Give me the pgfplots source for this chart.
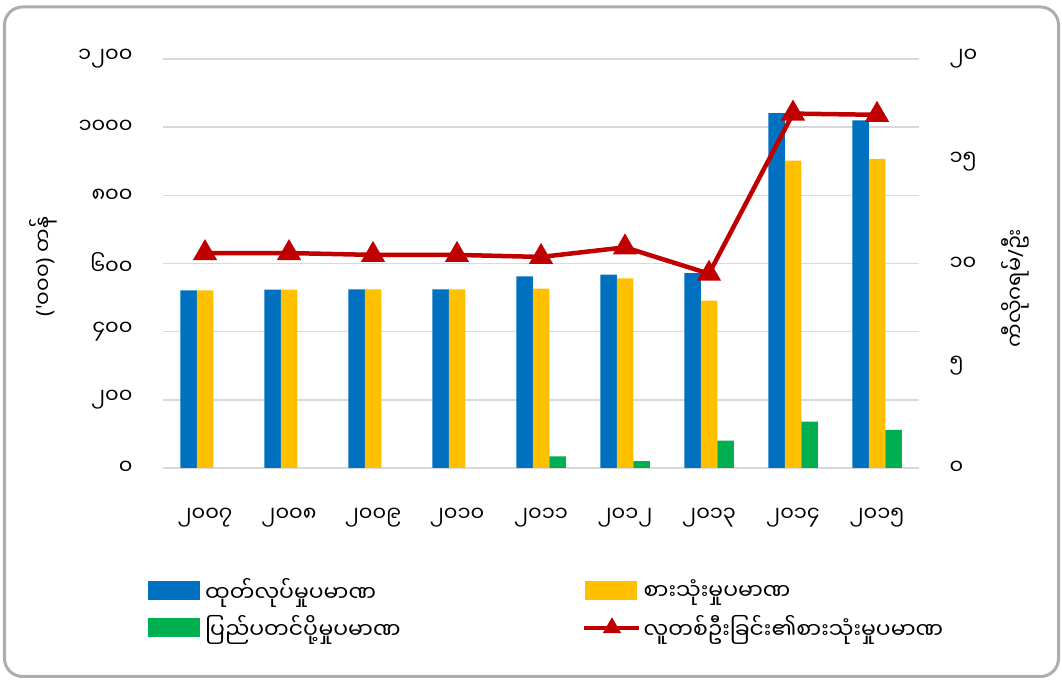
\documentclass[border=0pt]{standalone}
\usepackage{fontspec}
\usepackage{pgfplots}
\pgfplotsset{compat=1.18}
\newfontfamily\myan[Script=Myanmar]{Noto Sans Myanmar UI}
\newfontfamily\lat{Noto Sans}
\definecolor{cblue}{HTML}{0070C0}
\definecolor{cyellow}{HTML}{FFC000}
\definecolor{cgreen}{HTML}{00B050}
\definecolor{cred}{HTML}{C00000}
\definecolor{cgrid}{HTML}{D9D9D9}
\definecolor{cframe}{HTML}{ADADAD}
\newcommand{\tf}{\myan\fontsize{21}{25}\selectfont}
\newcommand{\lf}{\myan\fontsize{22}{26}\selectfont}
\pgfplotsset{
  barlegend/.style={legend image code/.code={\fill[##1] (0bp,-9.5bp) rectangle (52bp,9.5bp);}},
  redlegend/.style={legend image code/.code={\draw[##1, mark=none] (-1bp,0bp) -- (54bp,0bp); \draw[##1, line width=1bp] plot coordinates {(26.5bp,0bp)};}},
}
\begin{document}
\begin{tikzpicture}[x=1bp,y=1bp]
\useasboundingbox (0,0) rectangle (1062,680);
\draw[cframe, line width=3bp, rounded corners=18bp] (4.5,3.5) rectangle (1058.5,673);
\begin{axis}[
  at={(163bp,212bp)}, anchor=south west,
  width=756bp, height=409bp, scale only axis,
  xmin=-0.5, xmax=8.5, ymin=0, ymax=1200,
  ybar=0pt, bar width=16.5bp,
  xtick={0,...,8},
  xticklabels={၂၀၀၇,၂၀၀၈,၂၀၀၉,၂၀၁၀,၂၀၁၁,၂၀၁၂,၂၀၁၃,၂၀၁၄,၂၀၁၅},
  ytick={0,200,...,1200},
  yticklabels={၀,၂၀၀,၄၀၀,၆၀၀,၈၀၀,၁၀၀၀,၁၂၀၀},
  axis x line*=bottom, axis y line*=left,
  x axis line style={cgrid, line width=1.5bp},
  y axis line style={draw=none},
  major tick length=0pt,
  ymajorgrids, grid style={cgrid, line width=1.5bp},
  tick label style={font=\tf},
  yticklabel style={xshift=-27bp},
  xticklabel style={yshift=-37bp},
  ylabel={{\lat('}၀၀၀{\lat)} တန်},
  every axis y label/.style={at={(-0.1587,0.4927)}, rotate=90, anchor=center, font=\tf},
  legend columns=2,
  legend cell align=left,
  legend style={at={(-0.0198,-0.3448)}, anchor=west, draw=none, fill=none,
    inner sep=0pt, font=\lf, row sep=9bp},
]
\addplot[fill=cblue, draw=none, barlegend] coordinates {(0,521) (1,523) (2,524) (3,524) (4,562) (5,567) (6,572) (7,1041) (8,1020)};
\addlegendentry{\makebox[378bp][l]{\hspace*{3bp}ထုတ်လုပ်မှုပမာဏ}}
\addplot[fill=cyellow, draw=none, barlegend] coordinates {(0,521) (1,523) (2,524) (3,524) (4,526) (5,556) (6,491) (7,902) (8,907)};
\addlegendentry{စားသုံးမှုပမာဏ}
\addplot[fill=cgreen, draw=none, barlegend] coordinates {(4,34) (5,20.5) (6,80) (7,136) (8,112)};
\addlegendentry{\makebox[378bp][l]{\hspace*{3bp}ပြည်ပတင်ပို့မှုပမာဏ}}
\addlegendimage{cred, line width=4.5bp, mark=triangle*, mark size=9.5bp, redlegend}
\addlegendentry{လူတစ်ဦးခြင်း၏စားသုံးမှုပမာဏ}
\end{axis}
\begin{axis}[
  at={(163bp,212bp)}, anchor=south west,
  width=756bp, height=409bp, scale only axis,
  xmin=-0.5, xmax=8.5, ymin=0, ymax=20,
  hide x axis,
  axis y line*=right,
  y axis line style={draw=none},
  major tick length=0pt,
  ytick={0,5,...,20},
  yticklabels={၀,၅,၁၀,၁၅,၂၀},
  tick label style={font=\tf},
  yticklabel style={xshift=27bp},
  ylabel={ကီလိုဂရမ်{\lat/}ဦး},
  every axis y label/.style={at={(1.127,0.440)}, rotate=90, anchor=center, font=\tf},
]
\addplot[cred, line width=4.5bp, mark=triangle*, mark size=9.5bp, mark options={solid}] coordinates {(0,10.51) (1,10.51) (2,10.42) (3,10.42) (4,10.32) (5,10.79) (6,9.5) (7,17.33) (8,17.27)};
\end{axis}
\end{tikzpicture}
\end{document}
